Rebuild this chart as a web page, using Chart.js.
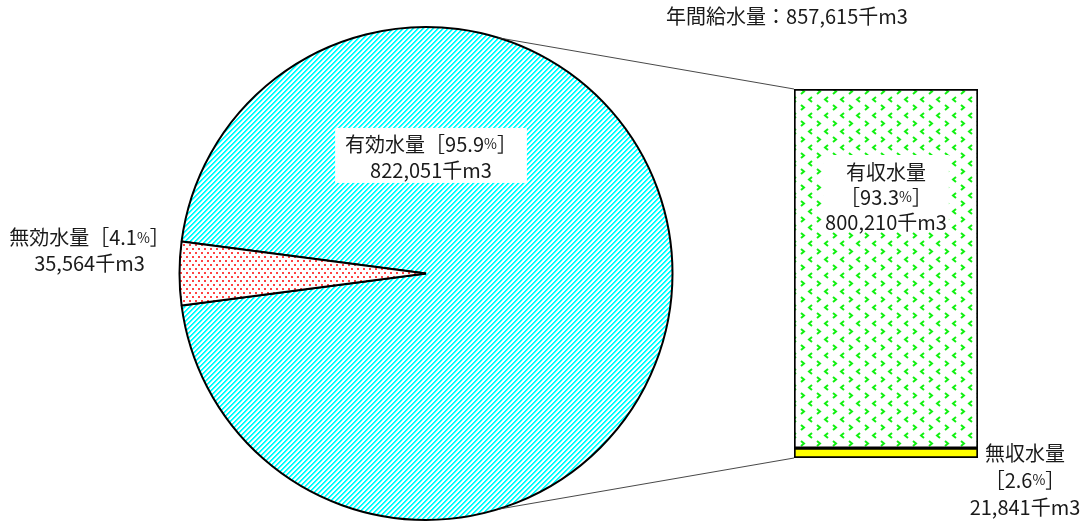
<!DOCTYPE html>
<html lang="ja">
<head>
<meta charset="utf-8">
<script src="https://cdn.jsdelivr.net/npm/chart.js@4.4.1/dist/chart.umd.min.js"></script>
<style>
html, body { margin: 0; padding: 0; background: #fff; }
#wrap { position: relative; width: 1087px; height: 522px; }
#wrap canvas { position: absolute; left: 0; top: 0; }
</style>
</head>
<body>
<div id="wrap">
  <canvas id="pie" width="1087" height="522"></canvas>
  <canvas id="bar" width="1087" height="522"></canvas>
</div>
<script>
// data
const pieLabels = ['有効水量', '無効水量'];
const pieValues = [822051, 35564];
const piePercents = ['95.9', '4.1'];
const barLabels = ['無収水量', '有収水量'];   // bottom to top
const barValues = [21841, 800210];
const barPercents = ['2.6', '93.3'];
const totalLabel = '年間給水量';
const totalValue = 857615;
const unit = '千m3';

const FONT = "'Noto Sans CJK JP', 'Noto Sans', sans-serif";
const TEXT = '#1a1a1a';
const BIG = 20, SMALL = 14;

const fmt = v => v.toLocaleString('en-US');

// fill patterns
function makeTile(w, h, draw) {
    const c = document.createElement('canvas');
    c.width = w; c.height = h;
    const g = c.getContext('2d');
    g.fillStyle = '#fff';
    g.fillRect(0, 0, w, h);
    draw(g);
    return g.createPattern(c, 'repeat');
}

const stripes = makeTile(5, 5, g => {
    for (let x = 0; x < 5; x++) {
        for (let y = 0; y < 5; y++) {
            const k = (x + y) % 5;
            if (k === 0 || k === 1) { g.fillStyle = '#00ffff'; g.fillRect(x, y, 1, 1); }
            if (k === 2) { g.fillStyle = '#a8ffff'; g.fillRect(x, y, 1, 1); }
        }
    }
});

const dots = makeTile(6, 8, g => {
    g.fillStyle = 'rgba(255,20,20,0.8)';
    g.fillRect(0, 0, 2, 2);
    g.fillRect(3, 4, 2, 2);
});

const chevrons = makeTile(16, 16, g => {
    g.strokeStyle = '#11f011';
    g.lineWidth = 2;
    const gt = (x, y) => { g.beginPath(); g.moveTo(x, y); g.lineTo(x + 3, y + 2.5); g.lineTo(x, y + 5); g.stroke(); };
    const lt = (x, y) => { g.beginPath(); g.moveTo(x + 3, y); g.lineTo(x, y + 2.5); g.lineTo(x + 3, y + 5); g.stroke(); };
    lt(9, 1);
    gt(1, 9);
});

// draw a line made of pieces with their own font size, centred on cx
function drawParts(ctx, parts, cx, y) {
    let total = 0;
    parts.forEach(p => { ctx.font = p.s + 'px ' + FONT; p.w = ctx.measureText(p.t).width; total += p.w; });
    let x = cx - total / 2;
    ctx.textBaseline = 'middle';
    ctx.textAlign = 'left';
    ctx.fillStyle = TEXT;
    parts.forEach(p => { ctx.font = p.s + 'px ' + FONT; ctx.fillText(p.t, x, y); x += p.w; });
    return total;
}

function partsWidth(ctx, parts) {
    let total = 0;
    parts.forEach(p => { ctx.font = p.s + 'px ' + FONT; total += ctx.measureText(p.t).width; });
    return total;
}

const pctParts = (pre, pct) => [{ t: pre + '［' + pct, s: BIG }, { t: '%', s: SMALL }, { t: '］', s: BIG }];

// start the small slice so that it points to the left
const smallShare = pieValues[1] / (pieValues[0] + pieValues[1]);
const pieRotation = -90 + smallShare * 180;

const pieLabelPlugin = {
    id: 'pieLabels',
    afterDraw(chart) {
        const ctx = chart.ctx;
        const arc = chart.getDatasetMeta(0).data[0];
        const cx = arc.x, cy = arc.y, r = arc.outerRadius;

        // 有効水量 label with white box
        const l1 = pctParts(pieLabels[0], piePercents[0]);
        const l2 = [{ t: fmt(pieValues[0]) + unit, s: BIG }];
        const w = Math.max(partsWidth(ctx, l1), partsWidth(ctx, l2));
        const lx = cx + 5, ly = cy - r * 0.477;
        ctx.save();
        ctx.fillStyle = '#fff';
        ctx.fillRect(lx - w / 2 - 10, ly - 28, w + 20, 55);
        drawParts(ctx, l1, lx, ly - 12);
        drawParts(ctx, l2, lx, ly + 14);

        // 無効水量 label outside to the left
        const ox = cx - r - 90, oy = cy - 24;
        drawParts(ctx, pctParts(pieLabels[1], piePercents[1]), ox, oy - 12);
        drawParts(ctx, [{ t: fmt(pieValues[1]) + unit, s: BIG }], ox, oy + 14);
        ctx.restore();
    }
};

const pieChart = new Chart(document.getElementById('pie'), {
    type: 'pie',
    data: {
        labels: pieLabels,
        datasets: [{
            data: pieValues,
            backgroundColor: [stripes, dots],
            borderColor: '#000',
            borderWidth: 2
        }]
    },
    options: {
        responsive: false,
        animation: false,
        rotation: pieRotation,
        layout: { padding: { left: 178.5, right: 413.5, top: 26, bottom: 1 } },
        plugins: { legend: { display: false }, tooltip: { enabled: false } }
    },
    plugins: [pieLabelPlugin]
});

const barLabelPlugin = {
    id: 'barLabels',
    afterDraw(chart) {
        const ctx = chart.ctx;
        const low = chart.getDatasetMeta(0).data[0];
        const high = chart.getDatasetMeta(1).data[0];
        const left = high.x - high.width / 2;
        const right = high.x + high.width / 2;
        const top = high.y;
        const bottom = low.base;

        ctx.save();
        // lines from the pie to the bar
        const arc = pieChart.getDatasetMeta(0).data[0];
        const a = 73 * Math.PI / 180;
        ctx.strokeStyle = '#333';
        ctx.lineWidth = 0.9;
        ctx.beginPath();
        ctx.moveTo(arc.x + arc.outerRadius * Math.cos(a), arc.y - arc.outerRadius * Math.sin(a));
        ctx.lineTo(left, top);
        ctx.moveTo(arc.x + arc.outerRadius * Math.cos(a), arc.y + arc.outerRadius * Math.sin(a));
        ctx.lineTo(left, bottom);
        ctx.stroke();

        // 有収水量 label inside the bar
        const lines = [
            [{ t: barLabels[1], s: BIG }],
            [{ t: '［' + barPercents[1], s: BIG }, { t: '%', s: SMALL }, { t: '］', s: BIG }],
            [{ t: fmt(barValues[1]) + unit, s: BIG }]
        ];
        const w = Math.max(...lines.map(l => partsWidth(ctx, l)));
        const cy = 197;
        ctx.fillStyle = '#fff';
        ctx.fillRect(high.x - w / 2 - 2, cy - 42, w + 4, 77);
        lines.forEach((l, i) => drawParts(ctx, l, high.x, cy - 25 + i * 25));

        // 無収水量 label right of the bar
        const my = (low.y + low.base) / 2;
        const mx = right + 47;
        drawParts(ctx, [{ t: barLabels[0], s: BIG }], mx, my);
        drawParts(ctx, [{ t: '［' + barPercents[0], s: BIG }, { t: '%', s: SMALL }, { t: '］', s: BIG }], mx, my + 27);
        drawParts(ctx, [{ t: fmt(barValues[0]) + unit, s: BIG }], mx, my + 54);

        // title
        drawParts(ctx, [{ t: totalLabel + '：' + fmt(totalValue) + unit, s: BIG }], 787, 16);
        ctx.restore();
    }
};

new Chart(document.getElementById('bar'), {
    type: 'bar',
    data: {
        labels: [''],
        datasets: [
            { label: barLabels[0], data: [barValues[0]], backgroundColor: '#ffff00' },
            { label: barLabels[1], data: [barValues[1]], backgroundColor: chevrons }
        ]
    },
    options: {
        responsive: false,
        animation: false,
        layout: { padding: { left: 794, right: 109, top: 89, bottom: 64 } },
        datasets: {
            bar: {
                borderColor: '#000',
                borderWidth: 2,
                borderSkipped: false,
                categoryPercentage: 1,
                barPercentage: 1
            }
        },
        scales: {
            x: { stacked: true, display: false },
            y: { stacked: true, display: false, min: 0, max: barValues[0] + barValues[1] }
        },
        plugins: { legend: { display: false }, tooltip: { enabled: false } }
    },
    plugins: [barLabelPlugin]
});
</script>
</body>
</html>
